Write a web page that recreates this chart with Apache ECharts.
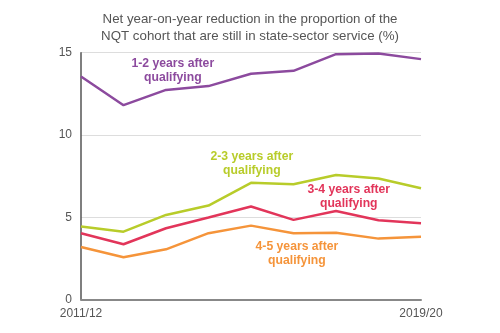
<!DOCTYPE html>
<html><head><meta charset="utf-8">
<script src="https://cdn.jsdelivr.net/npm/echarts@6/dist/echarts.min.js"></script>
<style>html,body{margin:0;padding:0;background:#fff}#c{width:500px;height:333px}</style>
</head><body><div id="c"></div>
<script>
const categories = ['2011/12','2012/13','2013/14','2014/15','2015/16','2016/17','2017/18','2018/19','2019/20'];
const years12 = [13.55, 11.81, 12.74, 12.97, 13.72, 13.9, 14.91, 14.95, 14.61];
const years23 = [4.43, 4.12, 5.14, 5.71, 7.09, 7.0, 7.57, 7.35, 6.76];
const years34 = [4.03, 3.36, 4.33, 4.98, 5.65, 4.84, 5.38, 4.82, 4.64];
const years45 = [3.19, 2.57, 3.05, 4.03, 4.49, 4.03, 4.06, 3.70, 3.82];
const seriesNames = ['1-2 years after\nqualifying','2-3 years after\nqualifying','3-4 years after\nqualifying','4-5 years after\nqualifying'];
const colors = ['#8c4a9e','#b8cc2a','#e2355a','#f5943a'];
const labelPos = [[2.16,13.9],[4.02,8.27],[6.3,6.26],[5.08,2.8]];

const chart = echarts.init(document.getElementById('c'));
const font = 'Liberation Sans, Arial, sans-serif';
const data = [years12, years23, years34, years45];
chart.setOption({
  animation:false,
  title:{text:'Net year-on-year reduction in the proportion of the\nNQT cohort that are still in state-sector service (%)',
    left:'center', top:6, textStyle:{fontFamily:font,fontSize:13.3,fontWeight:'normal',color:'#555',lineHeight:17}},
  grid:{left:81,right:79,top:52.7,bottom:33.5},
  xAxis:{type:'category',data:categories,boundaryGap:false,
    axisLine:{lineStyle:{color:'#888',width:2}},axisTick:{show:false},
    axisLabel:{interval:(i)=>i===0||i===8,color:'#555',fontFamily:font,fontSize:12,margin:8}},
  yAxis:{type:'value',min:0,max:15,interval:5,
    axisLine:{show:true,lineStyle:{color:'#555',width:1.5}},axisTick:{show:false},
    splitLine:{lineStyle:{color:'#ddd',width:1}},
    axisLabel:{color:'#555',fontFamily:font,fontSize:12,margin:9}},
  series:data.map((d,i)=>({type:'line',data:d,symbol:'none',
    lineStyle:{color:colors[i],width:2.5},itemStyle:{color:colors[i]}, z:10-i}))
});
function toPixel(p){
  const i0 = Math.floor(p[0]), f = p[0]-i0;
  const a = chart.convertToPixel({gridIndex:0},[i0,p[1]]);
  const b = chart.convertToPixel({gridIndex:0},[i0+1,p[1]]);
  return [a[0]+(b[0]-a[0])*f, a[1]];
}
const graphics = labelPos.map((p,i)=>{
  const px = toPixel(p);
  return {type:'text',x:px[0],y:px[1],style:{text:seriesNames[i],fill:colors[i],
    font:'bold 12.2px '+font,align:'center',verticalAlign:'middle',lineHeight:14}};
});
chart.setOption({graphic:graphics});
</script></body></html>
